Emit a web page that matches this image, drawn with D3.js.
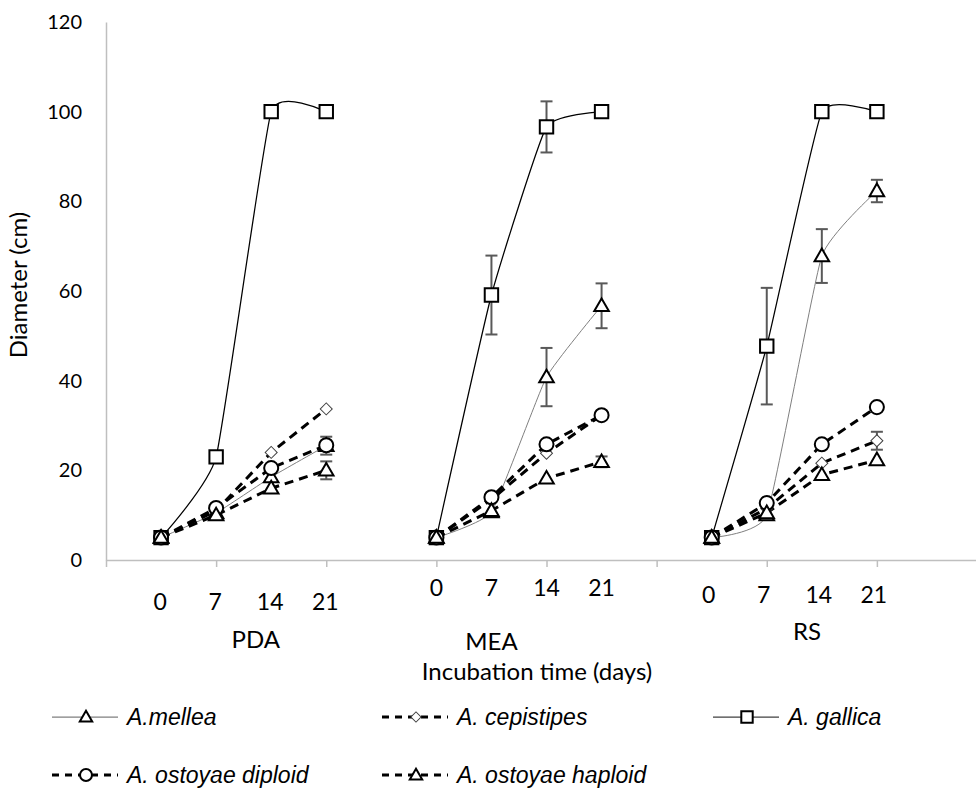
<!DOCTYPE html>
<html>
<head>
<meta charset="utf-8">
<script src="https://cdn.jsdelivr.net/npm/d3@7/dist/d3.min.js"></script>
<style>
  html, body { margin: 0; padding: 0; background: #fff; }
  svg { display: block; }
</style>
</head>
<body>
<svg id="chart" width="976" height="789"></svg>
<script>
// ---------------- DATA ----------------
const groups = ["PDA", "MEA", "RS"];
const days = ["0", "7", "14", "21"];
const yTickValues = [0, 20, 40, 60, 80, 100, 120];
const seriesNames = ["A.mellea", "A. cepistipes", "A. gallica", "A. ostoyae diploid", "A. ostoyae haploid"];

// values per group (PDA day0..21, MEA day0..21, RS day0..21)
const mellea     = [5, 10.5, 18.5, 25.5,   5, 10.7, 40.8, 56.7,   5, 10,   67.8, 82.3];
const cepistipes = [5, 11,   24,   33.7,   5, 13.5, 23.8, 32.3,   5, 11.5, 21.6, 26.6];
const gallica    = [5, 23,  100,  100,     5, 59.1, 96.6, 100,    5, 47.7, 100,  100];
const diploid    = [5, 11.6, 20.5, 25.6,   5, 14,   25.8, 32.3,   5, 12.7, 25.8, 34.1];
const haploid    = [5, 10,   16,   20,     5, 11,   18.2, 21.9,   5, 10.5, 19,   22.3];

// error bar half-widths (0 = none visible)
const melleaErr     = [0, 0, 0, 2,   0, 0, 6.5, 5,   0, 0, 6, 2.5];
const cepistipesErr = [0, 0, 0, 0,   0, 0, 0, 0,     0, 0, 0, 2];
const gallicaErr    = [0, 0, 0, 0,   0, 8.8, 5.7, 0, 0, 13, 0, 0];
const diploidErr    = [0, 0, 0, 0,   0, 0, 0, 0,     0, 0, 0, 0];
const haploidErr    = [0, 0, 0, 2,   0, 0, 0, 1.2,   0, 0, 0, 0];

// ---------------- LAYOUT / STYLE ----------------
const svg = d3.select("#chart");
const calibri = "Lato, 'Open Sans', sans-serif";
const arial = "'Liberation Sans', Arial, sans-serif";
const axisColor = "#bfbfbf";

const x = d3.scaleLinear().domain([-1, 14.8]).range([106, 976]);
const y = d3.scaleLinear().domain([0, 120]).range([560, 22]);
const idx = (g, j) => g * 5 + j;              // position on the category axis
const pos = i => idx(Math.floor(i / 4), i % 4); // value array index -> axis position

const styles = [
  { name: seriesNames[0], values: mellea,     err: melleaErr,     stroke: "#7f7f7f", width: 1,    dash: null,  smooth: true,  marker: "triangle" },
  { name: seriesNames[1], values: cepistipes, err: cepistipesErr, stroke: "#000",    width: 3,    dash: "9,6", smooth: false, marker: "diamond" },
  { name: seriesNames[2], values: gallica,    err: gallicaErr,    stroke: "#000",    width: 1.25, dash: null,  smooth: true,  marker: "square" },
  { name: seriesNames[3], values: diploid,    err: diploidErr,    stroke: "#000",    width: 3,    dash: "9,6", smooth: false, marker: "circle" },
  { name: seriesNames[4], values: haploid,    err: haploidErr,    stroke: "#000",    width: 3,    dash: "9,6", smooth: false, marker: "triangle" }
];

function markerPath(type, scale) {
  scale = scale || 1;
  if (type === "triangle") return d3.symbol(d3.symbolTriangle, 92 * scale * scale)();
  if (type === "square") return d3.symbol(d3.symbolSquare, 180 * scale * scale)();
  if (type === "circle") return d3.symbol(d3.symbolCircle, 155 * scale * scale)();
  if (type === "diamond") return d3.symbol(d3.symbolSquare, 72 * scale * scale)();
}
function markerStyle(sel, type) {
  sel.attr("fill", "#fff")
     .attr("stroke", type === "diamond" ? "#404040" : "#000")
     .attr("stroke-width", type === "diamond" ? 1 : 2);
}

// ---------------- AXES ----------------
const yAxis = d3.axisLeft(y).tickValues(yTickValues).tickSize(0).tickPadding(24);
const gy = svg.append("g").attr("transform", `translate(106,0)`).call(yAxis);
gy.select(".domain").attr("stroke", axisColor).attr("stroke-width", 1.5);
gy.selectAll(".tick text").attr("font-family", calibri).attr("font-size", 20).attr("fill", "#000");

const xAxis = d3.axisBottom(x).tickValues([-1, 1, 3, 5, 7, 9, 11, 13]).tickFormat("").tickSize(7).tickSizeOuter(0);
const gx = svg.append("g").attr("transform", `translate(0,560)`).call(xAxis);
gx.select(".domain").attr("stroke", axisColor).attr("stroke-width", 1.5);
gx.selectAll(".tick line").attr("stroke", axisColor).attr("stroke-width", 1.5);

// day labels and group labels
const dayLabelY = [602, 588, 595];
const dayLabelDx = [-1, 0, -3];
const groupLabelPos = [[1.72, 640], [6.0, 642], [11.73, 632]];
groups.forEach((gname, g) => {
  days.forEach((d, j) => {
    svg.append("text")
      .attr("x", x(idx(g, j)) + dayLabelDx[g])
      .attr("y", dayLabelY[g])
      .attr("dy", "0.35em")
      .attr("text-anchor", "middle")
      .attr("font-family", calibri).attr("font-size", 23)
      .text(d);
  });
  svg.append("text")
    .attr("x", x(groupLabelPos[g][0]))
    .attr("y", groupLabelPos[g][1])
    .attr("dy", "0.35em")
    .attr("text-anchor", "middle")
    .attr("font-family", calibri).attr("font-size", 24)
    .text(gname);
});

svg.append("text")
  .attr("x", 537).attr("y", 672).attr("dy", "0.35em")
  .attr("text-anchor", "middle")
  .attr("font-family", calibri).attr("font-size", 24)
  .text("Incubation time (days)");

svg.append("text")
  .attr("transform", "translate(19,285) rotate(-90)")
  .attr("dy", "0.35em")
  .attr("text-anchor", "middle")
  .attr("font-family", calibri).attr("font-size", 24)
  .text("Diameter (cm)");

// ---------------- LINES ----------------
const plot = svg.append("g");
styles.forEach(s => {
  const line = d3.line()
    .x(d => x(d.i)).y(d => y(d.v))
    .curve(s.smooth ? d3.curveCardinal.tension(0.6) : d3.curveLinear);
  groups.forEach((gname, g) => {
    const pts = days.map((d, j) => ({ i: idx(g, j), v: s.values[g * 4 + j] }));
    plot.append("path")
      .attr("d", line(pts))
      .attr("fill", "none")
      .attr("stroke", s.stroke)
      .attr("stroke-width", s.width)
      .attr("stroke-dasharray", s.dash);
  });
});

// ---------------- ERROR BARS ----------------
const errG = svg.append("g").attr("stroke", "#595959").attr("stroke-width", 2);
styles.forEach(s => {
  s.values.forEach((v, i) => {
    const e = s.err[i];
    if (!e) return;
    const cx = x(pos(i));
    errG.append("line").attr("x1", cx).attr("x2", cx).attr("y1", y(v + e)).attr("y2", y(v - e));
    errG.append("line").attr("x1", cx - 6).attr("x2", cx + 6).attr("y1", y(v + e)).attr("y2", y(v + e));
    errG.append("line").attr("x1", cx - 6).attr("x2", cx + 6).attr("y1", y(v - e)).attr("y2", y(v - e));
  });
});

// ---------------- MARKERS ----------------
styles.forEach(s => {
  s.values.forEach((v, i) => {
    const rot = s.marker === "diamond" ? " rotate(45)" : "";
    const dyT = s.marker === "triangle" ? 1 : 0;
    svg.append("path")
      .attr("d", markerPath(s.marker))
      .attr("transform", `translate(${x(pos(i))},${y(v) + dyT})${rot}`)
      .call(markerStyle, s.marker);
  });
});

// ---------------- LEGEND ----------------
const legendPos = [[52, 717], [382, 717], [713, 717], [52, 775], [382, 775]];
styles.forEach((s, k) => {
  const [lx, ly] = legendPos[k];
  const g = svg.append("g").attr("transform", `translate(${lx},${ly})`);
  g.append("line").attr("x1", 0).attr("x2", 66).attr("y1", 0).attr("y2", 0)
    .attr("stroke", s.marker === "square" ? "#404040" : s.stroke)
    .attr("stroke-width", s.dash ? 3 : 1.25)
    .attr("stroke-dasharray", s.dash ? "7,6" : null);
  const rot = s.marker === "diamond" ? " rotate(45)" : "";
  g.append("path")
    .attr("d", markerPath(s.marker, 0.85))
    .attr("transform", `translate(34,${s.marker === "triangle" ? 1 : 0})${rot}`)
    .call(markerStyle, s.marker);
  g.append("text")
    .attr("x", 75).attr("y", 0).attr("dy", "0.35em")
    .attr("font-family", arial).attr("font-style", "italic").attr("font-size", 23)
    .text(s.name);
});
</script>
</body>
</html>
